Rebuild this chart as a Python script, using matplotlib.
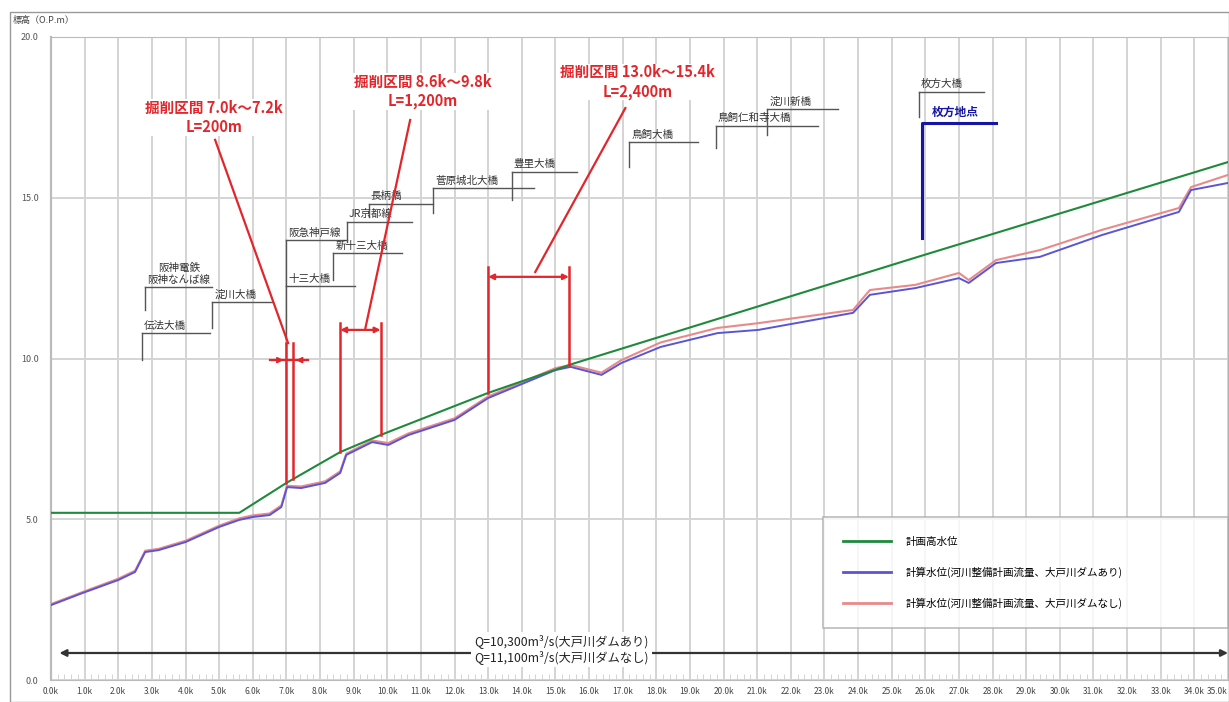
import numpy as np
import matplotlib.pyplot as plt
from matplotlib.lines import Line2D
from matplotlib.patches import Rectangle

plt.rcParams['font.family'] = ['Noto Sans CJK JP', 'DejaVu Sans']

# --- data (km from river mouth, water level O.P.m) ---
hwl_km = [0.0, 5.6, 7.0, 8.6, 9.8, 13.0, 15.5, 25.9, 35.0]
hwl_wl = [5.2, 5.2, 6.13, 7.09, 7.62, 8.93, 9.83, 13.20, 16.11]

calc_km = [0.0, 0.95, 2.0, 2.5, 2.8, 3.2, 4.0, 5.0, 5.6, 6.0, 6.5, 6.85, 7.02,
           7.44, 8.15, 8.6, 8.78, 9.55, 10.03, 10.63, 12.0, 13.0, 15.0, 15.45,
           16.37, 16.96, 18.13, 19.82, 21.04, 23.85, 24.35, 25.7, 27.0, 27.29,
           28.1, 29.4, 31.25, 33.54, 33.9, 35.0]
dam_on_wl = [2.33, 2.71, 3.11, 3.36, 3.98, 4.04, 4.29, 4.76, 4.98, 5.07, 5.13,
             5.38, 6.00, 5.97, 6.13, 6.44, 7.00, 7.40, 7.31, 7.62, 8.09, 8.77,
             9.64, 9.74, 9.49, 9.86, 10.36, 10.79, 10.89, 11.42, 11.98, 12.19,
             12.50, 12.35, 12.97, 13.16, 13.84, 14.56, 15.24, 15.46]
dam_off_wl = [2.36, 2.74, 3.15, 3.40, 4.02, 4.08, 4.33, 4.80, 5.03, 5.12, 5.18,
              5.43, 6.04, 6.02, 6.18, 6.49, 7.04, 7.45, 7.37, 7.67, 8.14, 8.82,
              9.70, 9.80, 9.56, 9.95, 10.50, 10.95, 11.10, 11.51, 12.13, 12.29,
              12.66, 12.44, 13.06, 13.37, 14.00, 14.68, 15.33, 15.71]

bridge_names = ['伝法大橋', '阪神電鉄\n阪神なんば線', '淀川大橋', '十三大橋', '阪急神戸線',
                '新十三大橋', 'JR京都線', '長柄橋', '菅原城北大橋', '豊里大橋',
                '鳥飼大橋', '鳥飼仁和寺大橋', '淀川新橋', '枚方大橋']
bridge_km = [2.7, 2.8, 4.8, 7.0, 7.0, 8.4, 8.8, 9.45, 11.37, 13.7,
             17.2, 19.76, 21.3, 25.8]

# excavation sections: start km, end km, length label
cut_start = [7.0, 8.6, 13.0]
cut_end = [7.2, 9.8, 15.4]
cut_length = ['L=200m', 'L=1,200m', 'L=2,400m']

flow_labels = ['Q=10,300m³/s(大戸川ダムあり)', 'Q=11,100m³/s(大戸川ダムなし)']
station_name = '枚方地点'
station_km = 25.9

legend_labels = ['計画高水位',
                 '計算水位(河川整備計画流量、大戸川ダムあり)',
                 '計算水位(河川整備計画流量、大戸川ダムなし)']

# --- layout for the bridge brackets: line level, drop to, line end km ---
br_line = [10.79, 12.22, 11.76, 12.25, 13.69, 13.28, 14.25, 14.81, 15.30,
           15.80, 16.73, 17.23, 17.76, 18.29]
br_bottom = [9.95, 11.51, 10.95, 10.6, 12.25, 12.44, 13.62, 14.40, 14.53,
             14.93, 15.96, 16.55, 16.95, 17.51]
br_right = [4.73, 4.8, 6.58, 9.05, 8.8, 10.45, 10.74, 11.37, 14.35, 15.65,
            19.23, 22.8, 23.4, 27.74]

GREEN = '#1f8a3c'
BLUE = '#5a55d6'
PINK = '#e88a8a'
RED = '#e3262b'
GRID = '#d4d4d4'

fig = plt.figure(figsize=(12.29, 7.02), dpi=100)
ax = fig.add_axes([51 / 1229, 1 - 680 / 702, (1228 - 51) / 1229, (680 - 37) / 702])

ax.set_xlim(0, 35.0)
ax.set_ylim(0, 20)

xt = np.arange(0, 36)
ax.set_xticks(xt)
ax.set_xticklabels([f'{v:.1f}k' for v in xt], fontsize=6, color='#444')
ax.get_xticklabels()[-1].set_horizontalalignment('right')
ax.set_xticks(np.arange(0, 35.01, 0.2), minor=True)
yt = np.arange(0, 21, 5)
ax.set_yticks(yt)
ax.set_yticklabels([f'{v:.1f}' for v in yt], fontsize=6.5, color='#555')
ax.tick_params(axis='x', which='major', length=0, pad=5)
ax.tick_params(axis='x', which='minor', direction='in', length=4, color='#cccccc')
ax.tick_params(axis='y', length=0, pad=9)
ax.grid(True, which='major', color=GRID, lw=1.4, zorder=0)
for s in ax.spines.values():
    s.set_color('#bbbbbb')
ax.spines['left'].set_linewidth(1.6)

# water levels
ax.plot(calc_km, dam_off_wl, color=PINK, lw=1.5, zorder=3)
ax.plot(calc_km, dam_on_wl, color=BLUE, lw=1.4, zorder=3)
ax.plot(hwl_km, hwl_wl, color=GREEN, lw=1.5, zorder=4)

# bridge labels
for name, km, yl, yb, xr in zip(bridge_names, bridge_km, br_line, br_bottom, br_right):
    ax.plot([km, km], [yb, yl], color='#555', lw=1, zorder=2)
    ax.plot([km, xr], [yl, yl], color='#555', lw=1, zorder=2)
    ax.text(km + 0.06, yl + 0.08, name, fontsize=7.6, color='#333',
            ha='left', va='bottom', multialignment='center', linespacing=1.15,
            zorder=5)

# 枚方 station
st_line, st_bottom, st_right = 17.33, 13.75, 28.1
ax.plot([station_km, station_km, st_right], [st_bottom, st_line, st_line],
        color='#1616a6', lw=2.2, zorder=5)
ax.text(station_km + 0.3, st_line + 0.12, station_name, fontsize=8.5, color='#1616a6',
        fontweight='bold', ha='left', va='bottom', zorder=6)

# excavation sections
cut_text_xy = [(4.85, 16.95), (11.05, 17.75), (17.45, 18.05)]
cut_leader = [((4.88, 16.8), (7.05, 10.48)),
              ((10.68, 17.42), (9.35, 10.95)),
              ((17.08, 17.79), (14.4, 12.69))]
cut_top = [10.48, 11.1, 12.85]
cut_dim = [9.95, 10.89, 12.54]
for i in range(3):
    a, b = cut_start[i], cut_end[i]
    tx, ty = cut_text_xy[i]
    ax.text(tx, ty, f'掘削区間 {a:.1f}k～{b:.1f}k\n{cut_length[i]}', color=RED,
            fontsize=10.5, fontweight='bold', ha='center', va='bottom',
            linespacing=1.25, zorder=6,
            bbox=dict(facecolor='white', edgecolor='none', pad=0.5))
    (x0, y0), (x1, y1) = cut_leader[i]
    ax.plot([x0, x1], [y0, y1], color=RED, lw=1.6, zorder=6)
    for k in (a, b):
        ax.plot([k, k], [np.interp(k, hwl_km, hwl_wl), cut_top[i]],
                color=RED, lw=1.8, zorder=6)
    if b - a < 0.5:
        ax.plot([a - 0.5, b + 0.45], [cut_dim[i]] * 2, color=RED, lw=1.6, zorder=6)
        ax.annotate('', xy=(a, cut_dim[i]), xytext=(a - 0.45, cut_dim[i]),
                    arrowprops=dict(arrowstyle='-|>', color=RED, lw=1.4,
                                    mutation_scale=8), zorder=6)
        ax.annotate('', xy=(b, cut_dim[i]), xytext=(b + 0.45, cut_dim[i]),
                    arrowprops=dict(arrowstyle='-|>', color=RED, lw=1.4,
                                    mutation_scale=8), zorder=6)
    else:
        ax.annotate('', xy=(a, cut_dim[i]), xytext=(b, cut_dim[i]),
                    arrowprops=dict(arrowstyle='<|-|>', color=RED, lw=1.6,
                                    mutation_scale=8, shrinkA=0, shrinkB=0), zorder=6)

# flow arrow along the bottom
ax.annotate('', xy=(0.25, 0.84), xytext=(35.0, 0.84),
            arrowprops=dict(arrowstyle='<|-|>', color='#333', lw=1.6,
                            mutation_scale=10, shrinkA=0, shrinkB=0), zorder=4)
ax.text(15.18, 0.96, '\n'.join(flow_labels), fontsize=8.8, color='#222',
        ha='center', va='center', linespacing=1.15, zorder=5,
        bbox=dict(facecolor='white', edgecolor='none', pad=2))

# legend
handles = [Line2D([0], [0], color=GREEN, lw=2),
           Line2D([0], [0], color=BLUE, lw=2),
           Line2D([0], [0], color=PINK, lw=2)]
leg = ax.legend(handles, legend_labels, loc='upper left',
                bbox_to_anchor=(0.656, 0.253, 0.344, 0.0), mode='expand',
                fontsize=7.6, frameon=True, fancybox=False, edgecolor='#aaaaaa',
                handlelength=4.6, handletextpad=1.4, labelspacing=1.85,
                borderpad=1.85, borderaxespad=0)
leg.get_frame().set_linewidth(1.2)
leg.set_zorder(7)

fig.text(13 / 1229, 1 - 20 / 702, '標高（O.P.m）', fontsize=6.5, color='#444',
         ha='left', va='center')
fig.patches.append(Rectangle((10 / 1229, 0), 1 - 10 / 1229, 1 - 12 / 702,
                             transform=fig.transFigure, fill=False,
                             edgecolor='#999999', lw=1))

fig.savefig('out.png', dpi=100)
